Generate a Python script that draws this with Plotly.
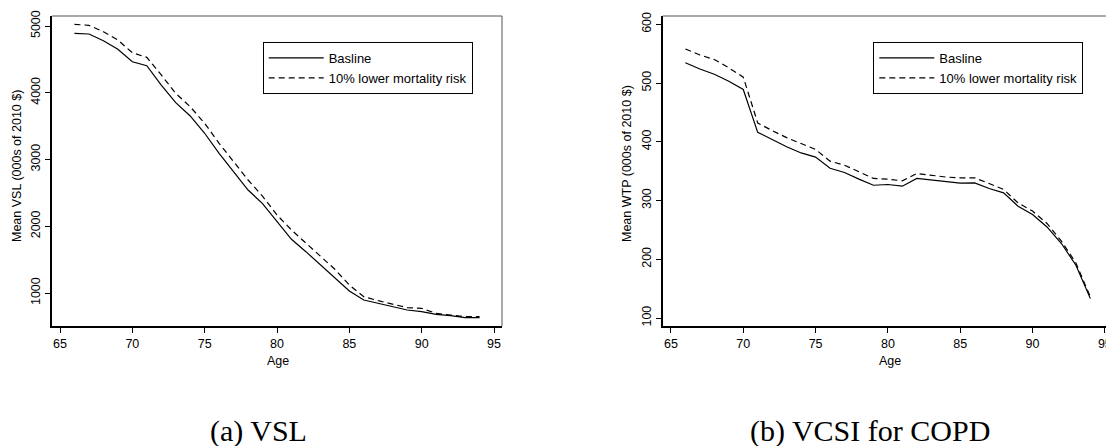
import plotly.graph_objects as go

W, H = 1106, 446

ages = list(range(66, 95))

vsl_baseline = [4890, 4880, 4780, 4650, 4465, 4405, 4116, 3851, 3652, 3393,
                3093, 2817, 2543, 2340, 2064, 1804, 1619, 1419, 1220, 1030,
                895, 845, 805, 745, 720, 680, 660, 630, 630]
vsl_lower = [5025, 5010, 4915, 4790, 4600, 4530, 4266, 3991, 3791, 3542,
             3243, 2967, 2693, 2450, 2169, 1944, 1744, 1554, 1355, 1120,
             945, 885, 835, 780, 770, 695, 670, 645, 645]

wtp_baseline = [534.6, 523.8, 515, 503, 489, 416, 404, 391.4, 381, 374,
                355, 347.8, 336.4, 326, 327.3, 324.4, 337.6, 334.7, 332, 329.6,
                330, 320.5, 313, 290.4, 276.2, 255, 226.8, 189.8, 133]
wtp_lower = [558, 547.7, 540, 526, 510, 432, 419, 407, 397, 387,
             367, 360, 349, 337.6, 336.4, 333.5, 346, 343, 340, 338.6,
             338.6, 329, 318.8, 296, 282, 261, 230.7, 193.7, 135.8]

series_names = ["Basline", "10% lower mortality risk"]
x_title = "Age"
y_titles = ["Mean VSL (000s of 2010 $)", "Mean WTP (000s of 2010 $)"]
captions = ["(a) VSL", "(b) VCSI for COPD"]

FONT = "Liberation Sans, Arial, sans-serif"
SERIF = "Liberation Serif, Times New Roman, serif"
FS = 12.5
LFS = 13

def px_x(p):
    return p / W

def px_y(p):
    return (H - p) / H

fig = go.Figure()

line_solid = dict(color="black", width=1.2)
line_dash = dict(color="black", width=1.2, dash="6px,4px")

fig.add_trace(go.Scatter(x=ages, y=vsl_baseline, mode="lines", name=series_names[0],
                         line=line_solid, xaxis="x", yaxis="y", legend="legend"))
fig.add_trace(go.Scatter(x=ages, y=vsl_lower, mode="lines", name=series_names[1],
                         line=line_dash, xaxis="x", yaxis="y", legend="legend"))
fig.add_trace(go.Scatter(x=ages, y=wtp_baseline, mode="lines", name=series_names[0],
                         line=line_solid, xaxis="x2", yaxis="y2", legend="legend2"))
fig.add_trace(go.Scatter(x=ages, y=wtp_lower, mode="lines", name=series_names[1],
                         line=line_dash, xaxis="x2", yaxis="y2", legend="legend2"))

ydom = [px_y(326), px_y(16)]

axis_common = dict(
    showgrid=False, zeroline=False, showline=True, linecolor="black", linewidth=1.6,
    ticks="outside", ticklen=5, tickwidth=1, tickcolor="black",
    tickfont=dict(family=FONT, size=FS, color="black"),
    ticklabeloverflow="allow", automargin=False,
)

xtick = [65, 70, 75, 80, 85, 90, 95]

legend_common = dict(xanchor="left", yanchor="top",
                     bgcolor="white", bordercolor="black", borderwidth=1,
                     font=dict(family=FONT, size=LFS, color="black"),
                     itemwidth=55, tracegroupgap=0)

fig.update_layout(
    width=W, height=H,
    margin=dict(l=0, r=0, t=0, b=0, pad=0, autoexpand=False),
    paper_bgcolor="white", plot_bgcolor="white",
    font=dict(family=FONT, size=FS, color="black"),
    xaxis=dict(domain=[px_x(52), px_x(502)], range=[64.447, 95.553], anchor="y",
               tickvals=xtick, **axis_common),
    yaxis=dict(domain=ydom, range=[505.6, 5149.8], anchor="x",
               tickvals=[1000, 2000, 3000, 4000, 5000], tickangle=-90, **axis_common),
    xaxis2=dict(domain=[px_x(662.7), 1.0], range=[64.43, 95.08], anchor="y2",
                tickvals=xtick, **axis_common),
    yaxis2=dict(domain=ydom, range=[86.4, 614.1], anchor="x2",
                tickvals=[100, 200, 300, 400, 500, 600], tickangle=-90, **axis_common),
    legend=dict(x=px_x(262.7), y=px_y(42), **legend_common),
    legend2=dict(x=px_x(873.3), y=px_y(42), **legend_common),
    showlegend=True,
)

# box top/right edges (thin grey)
for xr, yr, right in (("x domain", "y domain", True), ("x2 domain", "y2 domain", False)):
    fig.add_shape(type="line", xref=xr, yref=yr, x0=0, x1=1, y0=1, y1=1,
                  line=dict(color="#555555", width=1))
    if right:
        fig.add_shape(type="line", xref=xr, yref=yr, x0=1, x1=1, y0=0, y1=1,
                      line=dict(color="#555555", width=1))

def note(text, x, y, size=FS, family=FONT, angle=0):
    return dict(text=text, x=px_x(x), y=px_y(y), xref="paper", yref="paper",
                showarrow=False, textangle=angle,
                font=dict(family=family, size=size, color="black"),
                xanchor="center", yanchor="middle")

ann = [
    note(x_title, 278, 361),
    note(x_title, 890, 361),
    note(y_titles[0], 17, 166, angle=-90),
    note(y_titles[1], 627, 164, angle=-90),
    note(captions[0], 258, 431, size=30, family=SERIF),
    note(captions[1], 870, 431, size=30, family=SERIF),
]
fig.update_layout(annotations=ann)

fig.write_html("out.html")
